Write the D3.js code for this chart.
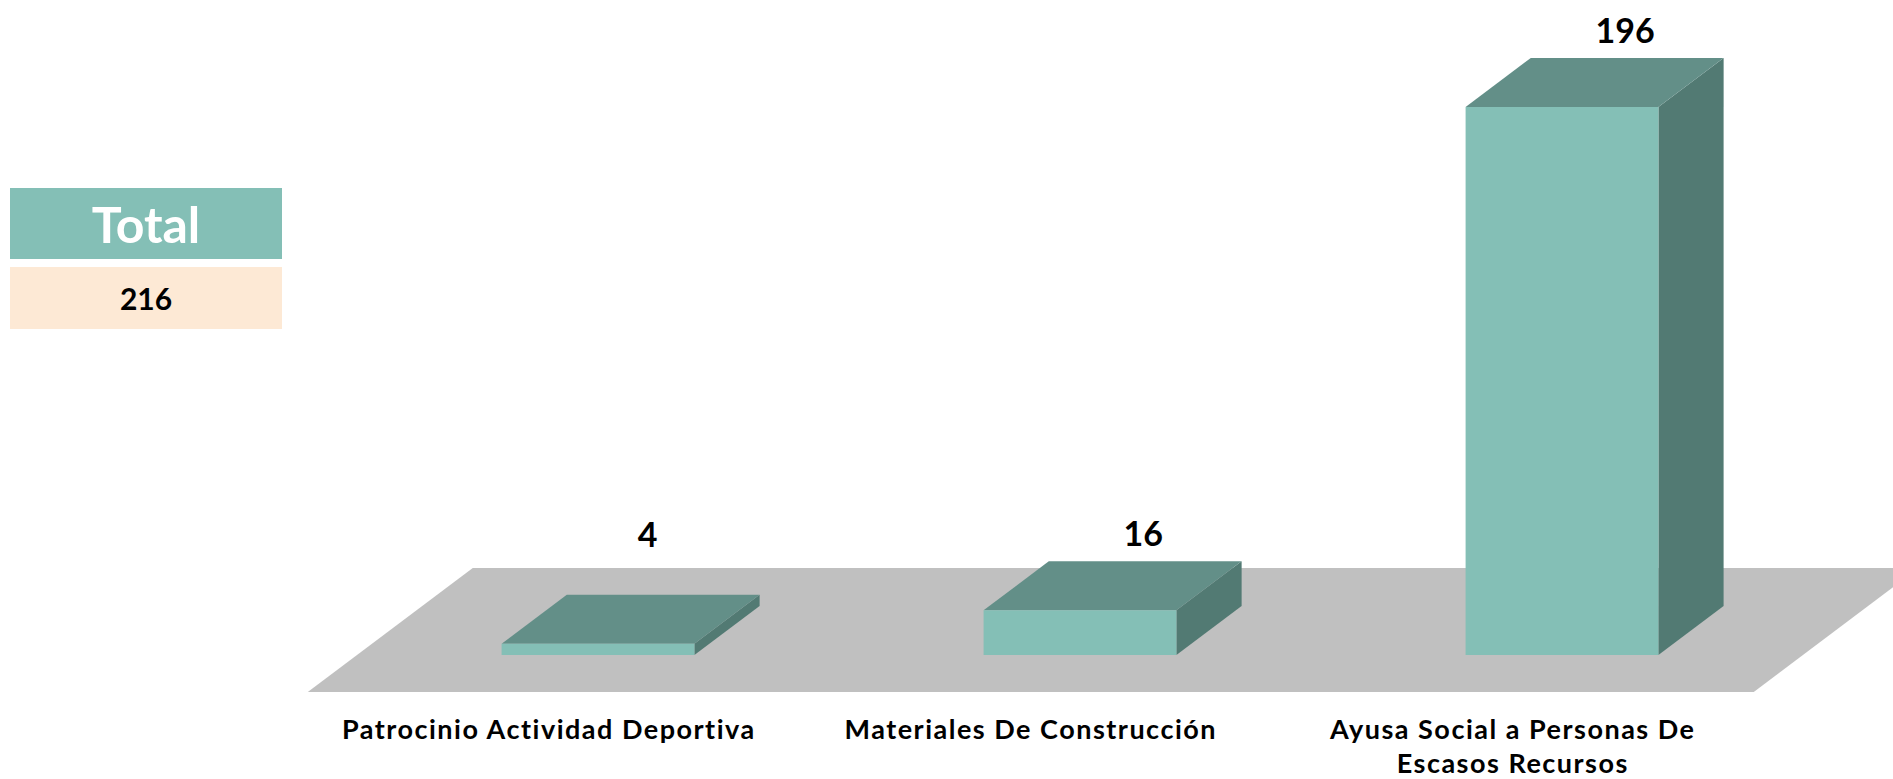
<!DOCTYPE html>
<html>
<head>
<meta charset="utf-8">
<script src="https://cdn.jsdelivr.net/npm/d3@7"></script>
<style>
  html, body { margin: 0; padding: 0; background: #ffffff; }
  svg { display: block; }
  text { font-family: Lato, "Open Sans", sans-serif; font-weight: 700; }
</style>
</head>
<body>
<svg id="chart" width="1893" height="779"></svg>
<script>
// ---- data ----
const categories = [
  ["Patrocinio Actividad Deportiva"],
  ["Materiales De Construcción"],
  ["Ayusa Social a Personas De", "Escasos Recursos"]
];
const values = [4, 16, 196];
const totalTitle = "Total";

// ---- layout ----
const svg = d3.select("#chart");

const floorFrontY = 692;      // front edge of the floor
const floorDepth = 124;       // vertical extent of floor in projection
const slant = 165 / 124;      // x shift per unit of depth
const barDepth0 = 37, barDepth1 = 86;

const keys = categories.map(c => c.join(" "));
const x = d3.scaleBand().domain(keys).range([357, 1803]).paddingInner(0.6).paddingOuter(0.3);
const h = d3.scaleLinear().domain([0, d3.max(values)]).range([0, 548]);

const colFront = "#84BFB6", colTop = "#638F88", colSide = "#527A73", colFloor = "#C0C0C0";

// floor
const fx0 = x.range()[0] - barDepth0 * slant;
const fx1 = x.range()[1] - barDepth0 * slant;
const P = (px, py, d) => [px + d * slant, py - d];
const floorPts = [P(fx0, floorFrontY, 0), P(fx1, floorFrontY, 0), P(fx1, floorFrontY, floorDepth), P(fx0, floorFrontY, floorDepth)];
svg.append("polygon").attr("points", floorPts.map(p => p.join(",")).join(" ")).attr("fill", colFloor);

// bars
const g = svg.append("g");
keys.forEach((k, i) => {
  const bx0 = x(k) - barDepth0 * slant;
  const bx1 = bx0 + x.bandwidth();
  const hh = h(values[i]);
  const yb = floorFrontY, yt = floorFrontY - hh;
  const poly = (pts, fill) => g.append("polygon")
    .attr("points", pts.map(p => p.join(",")).join(" ")).attr("fill", fill);
  // side face
  poly([P(bx1, yb, barDepth0), P(bx1, yb, barDepth1), P(bx1, yt, barDepth1), P(bx1, yt, barDepth0)], colSide);
  // top face
  poly([P(bx0, yt, barDepth0), P(bx1, yt, barDepth0), P(bx1, yt, barDepth1), P(bx0, yt, barDepth1)], colTop);
  // front face
  poly([P(bx0, yb, barDepth0), P(bx1, yb, barDepth0), P(bx1, yt, barDepth0), P(bx0, yt, barDepth0)], colFront);

  // value label above back top (kept above the floor's back edge)
  const cx = (bx0 + bx1) / 2;
  const backTop = P(cx, yt, barDepth1);
  const floorBackY = floorFrontY - floorDepth;
  const clamped = backTop[1] - 15 > floorBackY - 21;
  const ly = clamped ? floorBackY - 21 : backTop[1] - 15;
  const lx = clamped ? P(cx, yt, (barDepth0 + barDepth1) / 2)[0] + 17 : backTop[0] - 2;
  svg.append("text")
    .attr("x", lx).attr("y", ly)
    .attr("text-anchor", "middle")
    .attr("font-size", 34).attr("fill", "#000")
    .text(values[i]);

  // category label (centered on floor front segment)
  const t = svg.append("text")
    .attr("x", cx).attr("y", 739)
    .attr("text-anchor", "middle")
    .attr("font-size", 27).attr("letter-spacing", 1.5).attr("fill", "#000");
  categories[i].forEach((line, j) => {
    t.append("tspan").attr("x", cx).attr("dy", j === 0 ? 0 : 34).text(line);
  });
});

// total box
svg.append("rect").attr("x", 10).attr("y", 188).attr("width", 272).attr("height", 71).attr("fill", colFront);
svg.append("rect").attr("x", 10).attr("y", 267).attr("width", 272).attr("height", 62).attr("fill", "#FDE9D5");
svg.append("text").attr("x", 146).attr("y", 243).attr("text-anchor", "middle")
  .attr("font-size", 50).attr("fill", "#ffffff").text(totalTitle);
svg.append("text").attr("x", 146).attr("y", 310).attr("text-anchor", "middle")
  .attr("font-size", 30).attr("fill", "#000").text(d3.sum(values));
</script>
</body>
</html>
